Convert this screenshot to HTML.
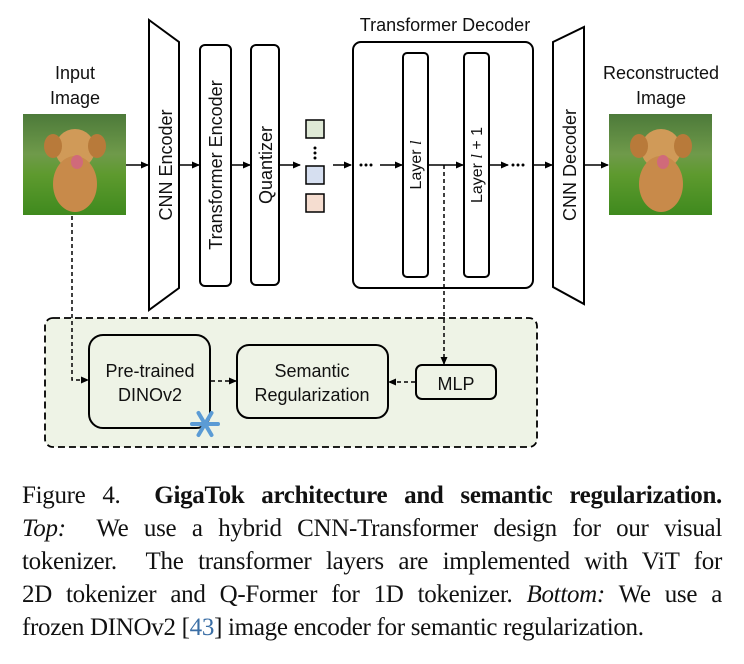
<!DOCTYPE html>
<html><head><meta charset="utf-8"><style>
body{margin:0;width:744px;height:664px;background:#fff;overflow:hidden;position:relative}
svg{position:absolute;left:0;top:0}
.cap{position:absolute;left:22px;top:479px;width:700px;font-family:"Liberation Serif",serif;font-size:25px;line-height:33px;color:#111}
.cap div{text-align:justify;text-align-last:justify;white-space:nowrap;letter-spacing:-0.3px}
.cap div.l{text-align-last:left}
</style></head><body>
<svg width="744" height="470" font-family="Liberation Sans, sans-serif" fill="none" stroke="#000">
<defs>
<marker id="a" markerWidth="8" markerHeight="8" refX="7" refY="4" orient="auto" markerUnits="userSpaceOnUse"><path d="M0,0.5 L8,4 L0,7.5z" fill="#000" stroke="none"/></marker>
<linearGradient id="bg" x1="0" y1="0" x2="0" y2="1"><stop offset="0" stop-color="#4d7a3a"/><stop offset="0.4" stop-color="#6f9a4a"/><stop offset="0.6" stop-color="#5e9a2e"/><stop offset="1" stop-color="#3f8a1e"/></linearGradient>
<g id="dog"><rect width="103" height="101" fill="url(#bg)" stroke="none"/>
<ellipse cx="52" cy="35" rx="20" ry="20" fill="#d09a58" stroke="none"/>
<ellipse cx="52" cy="70" rx="22" ry="28" fill="#c88a4a" stroke="none"/>
<ellipse cx="30" cy="32" rx="9" ry="12" fill="#b87a3a" stroke="none"/>
<ellipse cx="74" cy="32" rx="9" ry="12" fill="#b87a3a" stroke="none"/>
<ellipse cx="54" cy="48" rx="6" ry="7" fill="#d06a7a" stroke="none"/></g>
</defs>
<g font-size="18" fill="#111" stroke="none" text-anchor="middle">
<text x="75" y="79">Input</text><text x="75" y="104">Image</text>
<text x="661" y="79">Reconstructed</text><text x="661" y="104">Image</text>
<text x="445" y="31">Transformer Decoder</text>
</g>
<use href="#dog" x="23" y="114"/>
<use href="#dog" x="609" y="114"/>
<g stroke-width="2">
<path d="M149,20 L179,42 L179,288 L149,310z"/>
<rect x="200" y="45" width="31" height="241" rx="5"/>
<rect x="251" y="45" width="28" height="240" rx="5"/>
<rect x="353" y="42" width="180" height="246" rx="8"/>
<rect x="403" y="53" width="25" height="224" rx="4"/>
<rect x="464" y="53" width="25" height="224" rx="4"/>
<path d="M553,42 L584,27 L584,304 L553,287z"/>
</g>
<rect x="306" y="120" width="18" height="18" fill="#dfe9d6" stroke-width="1.5"/>
<rect x="306" y="166" width="18" height="18" fill="#d6dff0" stroke-width="1.5"/>
<rect x="306" y="194" width="18" height="18" fill="#f5ddd0" stroke-width="1.5"/>
<g fill="#000" stroke="none"><circle cx="315" cy="148" r="1.5"/><circle cx="315" cy="153" r="1.5"/><circle cx="315" cy="158" r="1.5"/>
<circle cx="361" cy="165" r="1.5"/><circle cx="366" cy="165" r="1.5"/><circle cx="371" cy="165" r="1.5"/>
<circle cx="513" cy="165" r="1.5"/><circle cx="518" cy="165" r="1.5"/><circle cx="523" cy="165" r="1.5"/></g>
<g font-size="18" fill="#111" stroke="none" text-anchor="middle">
<text transform="translate(172,165) rotate(-90)">CNN Encoder</text>
<text transform="translate(222,165) rotate(-90)">Transformer Encoder</text>
<text transform="translate(272,165) rotate(-90)">Quantizer</text>
<text transform="translate(576,165) rotate(-90)">CNN Decoder</text>
<text transform="translate(421,165) rotate(-90)" font-size="16">Layer <tspan font-style="italic" font-family="Liberation Serif">l</tspan></text>
<text transform="translate(482,165) rotate(-90)" font-size="16">Layer <tspan font-style="italic" font-family="Liberation Serif">l</tspan> + 1</text>
</g>
<g stroke-width="1.5" marker-end="url(#a)">
<path d="M126,165 H148"/><path d="M180,165 H199"/><path d="M232,165 H250"/><path d="M280,165 H300"/>
<path d="M333,165 H351"/><path d="M380,165 H402"/><path d="M429,165 H463"/><path d="M490,165 H508"/>
<path d="M534,165 H552"/><path d="M585,165 H608"/>
</g>
<rect x="45" y="318" width="492" height="129" rx="8" fill="#eef3e6" stroke-width="1.8" stroke-dasharray="7,4"/>
<g stroke-width="1.5" stroke-dasharray="4,3" marker-end="url(#a)">
<path d="M72,216 V380 H88"/>
<path d="M444,165 V364"/>
<path d="M211,381 H236"/>
<path d="M415,382 H389"/>
</g>
<g stroke-width="2">
<rect x="89" y="335" width="121" height="93" rx="14"/>
<rect x="237" y="345" width="151" height="73" rx="12"/>
<rect x="416" y="365" width="80" height="34" rx="6"/>
</g>
<g font-size="18" fill="#111" stroke="none" text-anchor="middle">
<text x="150" y="377">Pre-trained</text><text x="150" y="401">DINOv2</text>
<text x="312" y="377">Semantic</text><text x="312" y="401">Regularization</text>
<text x="456" y="390">MLP</text>
</g>
<g stroke="#5b9bd5" stroke-width="4" stroke-linecap="round" transform="translate(205,424)">
<path d="M-13,0 H13 M-6.5,-11 L6.5,11 M6.5,-11 L-6.5,11"/>
</g>
</svg>
<div class="cap">
<div>Figure 4.&nbsp; <b>GigaTok architecture and semantic regularization.</b></div>
<div><i>Top:</i>&nbsp; We use a hybrid CNN-Transformer design for our visual</div>
<div>tokenizer.&nbsp; The transformer layers are implemented with ViT for</div>
<div>2D tokenizer and Q-Former for 1D tokenizer. <i>Bottom:</i> We use a</div>
<div class="l">frozen DINOv2 [<span style="color:#3a6ea5">43</span>] image encoder for semantic regularization.</div>
</div>
</body></html>
